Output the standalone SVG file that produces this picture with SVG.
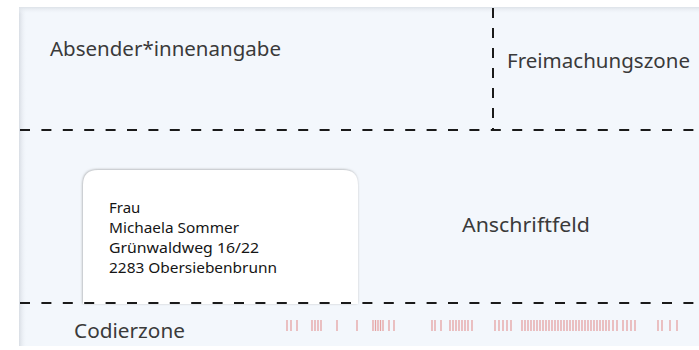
<svg xmlns="http://www.w3.org/2000/svg" width="699" height="350" viewBox="0 0 699 350">
  <defs>
    <linearGradient id="lshadow" x1="0" y1="0" x2="1" y2="0">
      <stop offset="0" stop-color="#d8dde4"/>
      <stop offset="1" stop-color="#f3f7fc" stop-opacity="0"/>
    </linearGradient>
    <linearGradient id="tshadow" x1="0" y1="0" x2="0" y2="1">
      <stop offset="0" stop-color="#dde2e8"/>
      <stop offset="1" stop-color="#f3f7fc" stop-opacity="0"/>
    </linearGradient>
    <filter id="winshadow" x="-5%" y="-5%" width="110%" height="110%">
      <feDropShadow dx="-0.5" dy="-0.5" stdDeviation="0.8" flood-color="#777" flood-opacity="0.6"/>
    </filter>
  </defs>
  <style>
    .lbl { font-family: "Noto Sans", "Liberation Sans", sans-serif; font-size: 20px; fill: #3a3a3a; }
    .addr { font-family: "Noto Sans", "Liberation Sans", sans-serif; font-size: 15px; fill: #151515; }
    .dash { stroke: #1a1a1a; stroke-width: 2; stroke-dasharray: 10 11.4; fill: none; }
    .bar { stroke: #e5a3a3; stroke-width: 1.3; }
  </style>
  <rect x="0" y="0" width="699" height="350" fill="#ffffff"/>
  <g id="envelope">
    <rect x="19" y="7" width="680" height="339" fill="#f3f7fc"/>
    <rect x="19" y="7" width="8" height="339" fill="url(#lshadow)"/>
    <rect x="19" y="7" width="680" height="7" fill="url(#tshadow)"/>
  </g>
  <g id="address-window">
    <path d="M83,304 L83,185 Q83,170 98,170 L343,170 Q358,170 358,185 L358,304 Z" fill="#ffffff" filter="url(#winshadow)"/>
    <text class="addr" x="109" y="213">Frau</text>
    <text class="addr" x="109" y="233" textLength="130" lengthAdjust="spacingAndGlyphs">Michaela Sommer</text>
    <text class="addr" x="109" y="253" textLength="150" lengthAdjust="spacingAndGlyphs">Grünwaldweg 16/22</text>
    <text class="addr" x="109" y="273" textLength="168" lengthAdjust="spacingAndGlyphs">2283 Obersiebenbrunn</text>
  </g>
  <g id="connectors">
    <line class="dash" x1="20" y1="130" x2="699" y2="130"/>
    <line class="dash" x1="20" y1="303" x2="699" y2="303"/>
    <line class="dash" x1="493" y1="8" x2="493" y2="130" style="stroke-dasharray:10 10"/>
  </g>
  <g id="absender"><text class="lbl" x="50" y="56" textLength="231" lengthAdjust="spacingAndGlyphs">Absender*innenangabe</text></g>
  <g id="freimachung"><text class="lbl" x="507" y="68" textLength="183" lengthAdjust="spacingAndGlyphs">Freimachungszone</text></g>
  <g id="anschrift"><text class="lbl" x="462" y="232" textLength="128" lengthAdjust="spacingAndGlyphs">Anschriftfeld</text></g>
  <g id="codierzone">
    <text class="lbl" x="74" y="338" textLength="111" lengthAdjust="spacingAndGlyphs">Codierzone</text>
    <g id="barcode">
      <path class="bar" d="M287,320v11 M291,320v11 M297,320v11 M312,320v11 M315,320v11 M318,320v11 M321,320v11 M337,320v11 M357,320v11 M373,320v11 M375.5,320v11 M378,320v11 M380.5,320v11 M383,320v11 M389,320v11 M394,320v11 M432,320v11 M435,320v11 M441,320v11 M450,320v11 M453,320v11 M456,320v11 M459,320v11 M462,320v11 M465,320v11 M468,320v11 M472,320v11 M495,320v11 M499,320v11 M503,320v11 M507,320v11 M511,320v11 M522,320v11 M525,320v11 M528,320v11 M531,320v11 M534,320v11 M537,320v11 M540,320v11 M543,320v11 M546,320v11 M549,320v11 M552,320v11 M555,320v11 M558,320v11 M561,320v11 M564,320v11 M567,320v11 M570,320v11 M573,320v11 M576,320v11 M579,320v11 M582,320v11 M585,320v11 M588,320v11 M591,320v11 M594,320v11 M597,320v11 M600,320v11 M603,320v11 M606,320v11 M609,320v11 M613,320v11 M617,320v11 M623,320v11 M627,320v11 M631,320v11 M635,320v11 M658,320v11 M662,320v11 M670,320v11 M677,320v11"/>
    </g>
  </g>
</svg>
